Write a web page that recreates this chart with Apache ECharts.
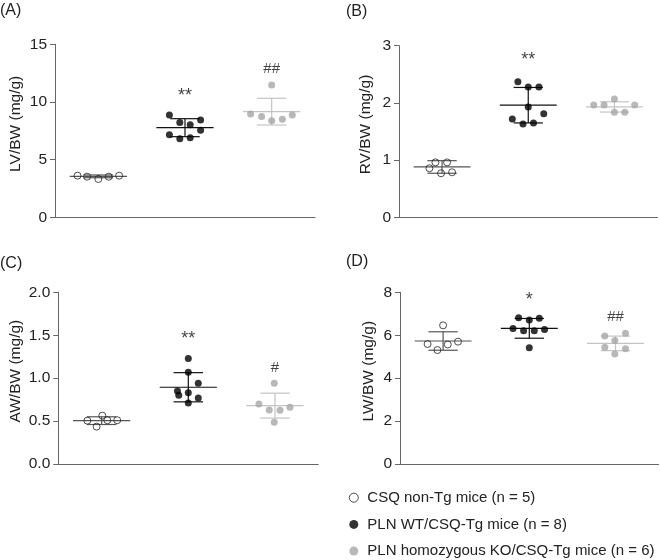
<!DOCTYPE html>
<html>
<head>
<meta charset="utf-8">
<script src="https://cdn.jsdelivr.net/npm/echarts@6/dist/echarts.min.js"></script>
<style>html,body{margin:0;padding:0;background:#fff}#c{width:660px;height:560px}</style>
</head>
<body>
<div id="c"></div>
<script>
// ---- data ----
const groups = ['CSQ non-Tg mice (n = 5)', 'PLN WT/CSQ-Tg mice (n = 8)', 'PLN homozygous KO/CSQ-Tg mice (n = 6)'];
const panelLabels = ['(A)', '(B)', '(C)', '(D)'];
const yNames = ['LV/BW (mg/g)', 'RV/BW (mg/g)', 'AW/BW (mg/g)', 'LW/BW (mg/g)'];
const yMax = [15, 3, 2, 8];
const yStep = [5, 1, 0.5, 2];

// Panel A: LV/BW
const lvNonTg = [3.61, 3.52, 3.32, 3.52, 3.61];
const lvNonTgX = [-0.24, -0.13, 0, 0.12, 0.24];
const lvWT = [8.87, 8.21, 8.03, 8.44, 7.16, 6.82, 6.90, 7.54];
const lvWTX = [-0.18, -0.06, 0.06, 0.18, -0.18, -0.06, 0.06, 0.18];
const lvKO = [11.47, 8.96, 8.73, 8.38, 8.50, 8.87];
const lvKOX = [0, -0.243, -0.116, 0, 0.123, 0.238];
const lvMean = [3.55, 7.77, 9.16];
const lvSD = [0.12, 0.78, 1.16];

// Panel B: RV/BW
const rvNonTg = [0.857, 0.96, 0.96, 0.77, 0.787];
const rvNonTgX = [-0.147, -0.077, 0.058, -0.012, 0.116];
const rvWT = [2.37, 2.28, 2.28, 1.93, 1.72, 1.63, 1.65, 1.81];
const rvWTX = [-0.12, 0, 0.124, 0, -0.185, -0.061, 0.061, 0.18];
const rvKO = [1.963, 1.963, 2.07, 1.963, 1.835, 1.835];
const rvKOX = [-0.24, -0.12, 0, 0.235, 0, 0.12];
const rvMean = [0.88, 1.96, 1.93];
const rvSD = [0.11, 0.31, 0.09];

// Panel C: AW/BW
const awNonTg = [0.505, 0.563, 0.435, 0.51, 0.51];
const awNonTgX = [-0.165, 0.008, -0.058, 0.066, 0.18];
const awWT = [1.23, 1.07, 0.94, 0.85, 0.80, 0.83, 0.77, 0.71];
const awWTX = [0, 0, 0.115, -0.125, -0.11, 0, 0.115, 0];
const awKO = [0.94, 0.70, 0.63, 0.627, 0.66, 0.486];
const awKOX = [-0.008, -0.185, -0.066, 0.058, 0.173, -0.008];
const awMean = [0.505, 0.894, 0.68];
const awSD = [0.045, 0.17, 0.145];

// Panel D: LW/BW
const lwNonTg = [6.46, 5.59, 5.31, 5.57, 5.70];
const lwNonTgX = [0, -0.18, -0.066, 0.054, 0.173];
const lwWT = [6.82, 6.71, 6.79, 6.31, 6.21, 6.21, 6.27, 5.42];
const lwWTX = [-0.124, 0, 0.116, -0.189, -0.066, 0.058, 0.177, 0];
const lwKO = [5.96, 6.09, 5.75, 5.44, 5.37, 5.13];
const lwKOX = [-0.124, 0.116, -0.008, -0.124, 0.116, -0.008];
const lwMean = [5.73, 6.32, 5.62];
const lwSD = [0.43, 0.46, 0.34];

// significance marks
const annotPanel = [0, 0, 1, 2, 2, 3, 3];
const annotGroup = [1, 2, 1, 1, 2, 1, 2];
const annotY = [10.75, 12.9, 2.81, 1.49, 1.115, 7.8, 6.86];
const annotText = ['**', '##', '**', '**', '#', '*', '##'];

// ---- assemble ----
const panelValues = [
  [lvNonTg, lvWT, lvKO], [rvNonTg, rvWT, rvKO], [awNonTg, awWT, awKO], [lwNonTg, lwWT, lwKO]
];
const panelOffsets = [
  [lvNonTgX, lvWTX, lvKOX], [rvNonTgX, rvWTX, rvKOX], [awNonTgX, awWTX, awKOX], [lwNonTgX, lwWTX, lwKOX]
];
const panelMean = [lvMean, rvMean, awMean, lwMean];
const panelSD = [lvSD, rvSD, awSD, lwSD];

const gridPos = [
  {left: 55, top: 44.3, width: 260, height: 173},
  {left: 399, top: 45.7, width: 258.5, height: 171.6},
  {left: 58.3, top: 292.3, width: 260, height: 171.7},
  {left: 400, top: 292.3, width: 258.6, height: 171.7}
];
const titlePos = [{left: 0, top: 3}, {left: 346, top: 4}, {left: 0, top: 256}, {left: 346, top: 254}];
const nameGaps = [31.5, 25.5, 34.8, 23.2];

const dotStyle = [
  {color: 'rgba(255,255,255,0)', borderColor: '#222', borderWidth: 1},
  {color: '#000', borderColor: '#000', borderWidth: 0},
  {color: '#a6a6a6', borderColor: '#a6a6a6', borderWidth: 0}
];
const lineColor = ['#555', '#111', '#c4c4c4'];
const FONT = 'Liberation Sans, Arial, sans-serif';

const grid = [], xAxis = [], yAxis = [], series = [], title = [];
for (let p = 0; p < 4; p++) {
  grid.push(gridPos[p]);
  title.push(Object.assign({text: panelLabels[p], textStyle: {fontSize: 16, fontWeight: 'normal', color: '#222', fontFamily: FONT}, padding: 0}, titlePos[p]));
  xAxis.push({
    type: 'category', gridIndex: p, data: ['', '', ''], boundaryGap: true,
    axisLine: {lineStyle: {color: '#666', width: 1}},
    axisTick: {alignWithLabel: true, length: 5, lineStyle: {color: '#666'}},
    axisLabel: {show: false}, splitLine: {show: false}
  });
  xAxis.push({type: 'value', gridIndex: p, min: 0, max: 3, show: false});
  yAxis.push({
    type: 'value', gridIndex: p, min: 0, max: yMax[p], interval: yStep[p],
    name: yNames[p], nameLocation: 'middle', nameGap: nameGaps[p], nameRotate: 90,
    nameTextStyle: {fontSize: 15.5, color: '#222', fontFamily: FONT, padding: [0, 0, 0, 14]},
    axisLine: {show: true, lineStyle: {color: '#666', width: 1}},
    axisTick: {show: true, length: 5, lineStyle: {color: '#666'}},
    splitLine: {show: false},
    axisLabel: {fontSize: 15.5, color: '#222', fontFamily: FONT, margin: 8,
      formatter: p === 2 ? (v => v.toFixed(1)) : (v => String(v))}
  });
  const ebData = [0, 1, 2].map(g => [g + 0.5, panelMean[p][g], panelSD[p][g], g]);
  series.push({
    type: 'custom', xAxisIndex: 2 * p + 1, yAxisIndex: p, z: 1, silent: true,
    data: ebData,
    renderItem: (params, api) => {
      const x = api.value(0), m = api.value(1), s = api.value(2), g = api.value(3);
      const c = api.coord([x, m]);
      const t = api.coord([x, m + s]);
      const b = api.coord([x, m - s]);
      const band = api.size([1, 0])[0];
      const col = lineColor[g];
      const st = {stroke: col, lineWidth: 1.2};
      const hw = band * 0.33, cw = band * 0.17;
      return {type: 'group', children: [
        {type: 'line', shape: {x1: c[0] - hw, y1: c[1], x2: c[0] + hw, y2: c[1]}, style: st},
        {type: 'line', shape: {x1: t[0], y1: t[1], x2: b[0], y2: b[1]}, style: st},
        {type: 'line', shape: {x1: t[0] - cw, y1: t[1], x2: t[0] + cw, y2: t[1]}, style: st},
        {type: 'line', shape: {x1: b[0] - cw, y1: b[1], x2: b[0] + cw, y2: b[1]}, style: st}
      ]};
    }
  });
  for (let g = 0; g < 3; g++) {
    series.push({
      type: 'scatter', name: groups[g], xAxisIndex: 2 * p + 1, yAxisIndex: p, z: 3,
      symbol: 'circle', symbolSize: 7, itemStyle: dotStyle[g], silent: true,
      data: panelValues[p][g].map((v, i) => [g + 0.5 + panelOffsets[p][g][i], v])
    });
  }
  const ad = [];
  annotPanel.forEach((ap, i) => { if (ap === p) ad.push({value: [annotGroup[i] + 0.5, annotY[i]], txt: annotText[i]}); });
  series.push({
    type: 'scatter', xAxisIndex: 2 * p + 1, yAxisIndex: p, symbolSize: 0, silent: true, z: 4,
    data: ad.map(d => {
      const star = d.txt.indexOf('*') >= 0;
      return {value: d.value, label: {formatter: d.txt, fontSize: star ? 18 : 15, offset: [0, star ? 3 : 0]}};
    }),
    label: {show: true, position: 'inside', fontSize: 15, color: '#111', fontFamily: FONT}
  });
}

const chart = echarts.init(document.getElementById('c'), null, {renderer: 'canvas'});
chart.setOption({
  backgroundColor: '#fff',
  animation: false,
  title: title,
  grid: grid,
  xAxis: xAxis,
  yAxis: yAxis,
  legend: {
    orient: 'vertical', left: 348.8, top: 490.2, padding: 0,
    itemWidth: 9, itemHeight: 9, itemGap: 11.7,
    selectedMode: false,
    textStyle: {fontSize: 15, lineHeight: 15, color: '#222', fontFamily: FONT, padding: [0, 0, 0, 4]},
    data: groups.map((n, g) => ({name: n, icon: 'circle', itemStyle: {color: dotStyle[g].color, borderColor: g === 0 ? '#222' : dotStyle[g].color, borderWidth: g === 0 ? 1 : 0}}))
  },
  series: series
});
</script>
</body>
</html>
